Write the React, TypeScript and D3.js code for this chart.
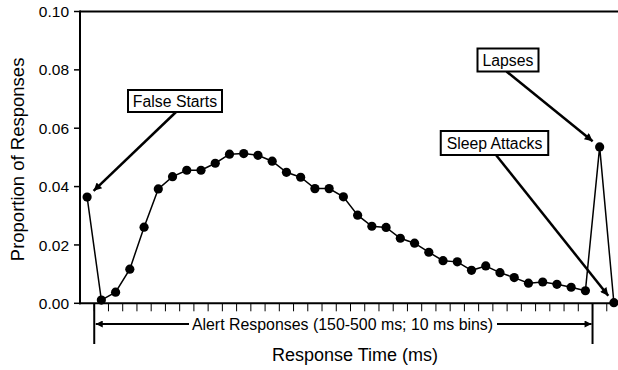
import React from "react";
import * as d3 from "d3";

// ---- Data ----
const categories: string[] = [
  "False Starts",
  ...Array.from({ length: 35 }, (_, i) => String(150 + i * 10)),
  "Lapses",
  "Sleep Attacks",
];

const proportions: number[] = [
  0.0364, 0.0011, 0.0038, 0.0117, 0.0261, 0.0392, 0.0434, 0.0456, 0.0456, 0.048,
  0.0511, 0.0513, 0.0507, 0.0487, 0.0449, 0.0432, 0.0393, 0.0393, 0.0365, 0.0302,
  0.0264, 0.026, 0.0223, 0.0206, 0.0175, 0.0146, 0.0142, 0.0113, 0.0128, 0.0105,
  0.0088, 0.0069, 0.0073, 0.0065, 0.0055, 0.0043, 0.0536, 0.0002,
];

const yTicks: number[] = [0, 0.02, 0.04, 0.06, 0.08, 0.1];

const annotations = [
  { label: "False Starts", target: "False Starts", cx: 175, cy: 101, w: 94, h: 22, fromX: 176, fromY: 112 },
  { label: "Lapses", target: "Lapses", cx: 508, cy: 60, w: 61, h: 23, fromX: 506.5, fromY: 71.5 },
  { label: "Sleep Attacks", target: "Sleep Attacks", cx: 494.5, cy: 143, w: 107.5, h: 24, fromX: 496, fromY: 155 },
];

const alertLabel = "Alert Responses (150-500 ms; 10 ms bins)";
const xTitle = "Response Time (ms)";
const yTitle = "Proportion of Responses";

const FONT = "Arial, 'Liberation Sans', Helvetica, sans-serif";

export default function App() {
  const W = 618;
  const H = 370;
  const left = 80;
  const top = 11.5;
  const bottom = 303.3;
  const bandW = 14.237;

  const x = d3
    .scaleBand<string>()
    .domain(categories)
    .range([left, left + bandW * categories.length])
    .paddingInner(0)
    .paddingOuter(0);
  const y = d3.scaleLinear().domain([0, 0.1]).range([bottom, top]);

  const cx = (c: string) => (x(c) as number) + x.bandwidth() / 2;

  const line = d3
    .line<number>()
    .x((_, i) => cx(categories[i]))
    .y((d) => y(d));

  const alertL = x(categories[1]) as number;
  const alertR = x(categories[36]) as number;
  const alertY = 324;

  return (
    <svg
      width={W}
      height={H}
      style={{ position: "absolute", left: 0, top: 0, background: "#fff" }}
      fontFamily={FONT}
    >
      <defs>
        <marker id="ah" viewBox="0 0 10 10" refX="10" refY="5" markerWidth="10" markerHeight="8" markerUnits="userSpaceOnUse" orient="auto">
          <path d="M0,0 L10,5 L0,10 Z" fill="#000" />
        </marker>
        <marker id="ah2" viewBox="0 0 10 10" refX="10" refY="5" markerWidth="8" markerHeight="7" markerUnits="userSpaceOnUse" orient="auto">
          <path d="M0,0 L10,5 L0,10 Z" fill="#000" />
        </marker>
      </defs>
      <rect x={0} y={0} width={W} height={H} fill="#fff" />

      {/* frame */}
      <line x1={left} x2={W} y1={top} y2={top} stroke="#000" strokeWidth={2} />
      <line x1={left} x2={left} y1={top - 1} y2={bottom + 1} stroke="#000" strokeWidth={2} />
      <line x1={left - 1} x2={W} y1={bottom} y2={bottom} stroke="#000" strokeWidth={2} />

      {/* y ticks */}
      {yTicks.map((t) => (
        <g key={t}>
          <line x1={left - 6} x2={left} y1={y(t)} y2={y(t)} stroke="#000" strokeWidth={1.5} />
          <text x={left - 11} y={y(t)} dy="0.36em" textAnchor="end" fontSize={15.5} fill="#000">
            {t.toFixed(2)}
          </text>
        </g>
      ))}

      {/* x ticks */}
      {categories.map((c, i) =>
        i === 0 ? null : (
          <line key={c} x1={x(c) as number} x2={x(c) as number} y1={bottom} y2={bottom + 8} stroke="#000" strokeWidth={1} />
        )
      )}

      {/* alert response range */}
      <line x1={alertL} x2={alertL} y1={bottom} y2={344} stroke="#000" strokeWidth={2} />
      <line x1={alertR} x2={alertR} y1={bottom} y2={344} stroke="#000" strokeWidth={2} />
      <line x1={189} x2={alertL + 1.5} y1={alertY} y2={alertY} stroke="#000" strokeWidth={2.2} markerEnd="url(#ah2)" />
      <line x1={497} x2={alertR - 1} y1={alertY} y2={alertY} stroke="#000" strokeWidth={2.2} markerEnd="url(#ah2)" />
      <text x={342.5} y={330} textAnchor="middle" fontSize={15.9} fill="#000">
        {alertLabel}
      </text>

      {/* data */}
      <path d={line(proportions) || ""} fill="none" stroke="#000" strokeWidth={1.5} />
      {proportions.map((v, i) => (
        <circle key={i} cx={cx(categories[i])} cy={y(v)} r={4.6} fill="#000" />
      ))}

      {/* annotations */}
      {annotations.map((a) => {
        const i = categories.indexOf(a.target);
        const px = cx(categories[i]);
        const py = y(proportions[i]);
        const dx = a.fromX - px;
        const dy = a.fromY - py;
        const len = Math.sqrt(dx * dx + dy * dy);
        const off = 9;
        const tx = px + (dx / len) * off;
        const ty = py + (dy / len) * off;
        return (
          <g key={a.label}>
            <line x1={a.fromX} y1={a.fromY} x2={tx} y2={ty} stroke="#000" strokeWidth={2.5} markerEnd="url(#ah)" />
            <rect x={a.cx - a.w / 2} y={a.cy - a.h / 2} width={a.w} height={a.h} fill="#fff" stroke="#000" strokeWidth={2} />
            <text x={a.cx} y={a.cy} dy="0.36em" textAnchor="middle" fontSize={15.8} fill="#000">
              {a.label}
            </text>
          </g>
        );
      })}

      {/* axis titles */}
      <text x={355} y={361} textAnchor="middle" fontSize={18} fill="#000">
        {xTitle}
      </text>
      <text transform={`translate(24,${(top + bottom) / 2 + 2}) rotate(-90)`} textAnchor="middle" fontSize={18.5} fill="#000">
        {yTitle}
      </text>
    </svg>
  );
}
